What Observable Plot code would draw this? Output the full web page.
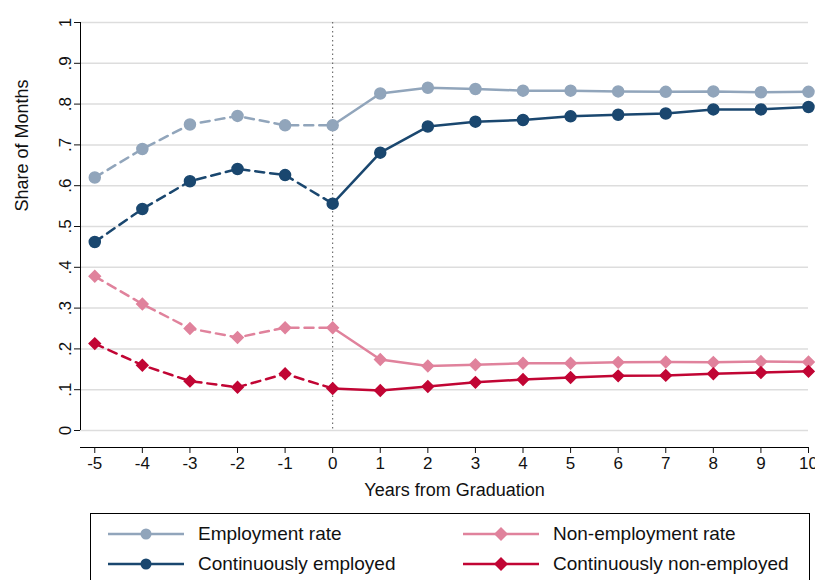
<!DOCTYPE html>
<html><head><meta charset="utf-8">
<script src="https://cdn.jsdelivr.net/npm/d3@7"></script>
<script src="https://cdn.jsdelivr.net/npm/@observablehq/plot@0.6"></script>
<style>
body{margin:0;background:#fff;font-family:Arial,"Liberation Sans",sans-serif;}
#legend{position:absolute;left:90px;top:513px;width:720px;height:72px;border:1px solid #000;box-sizing:border-box;}
.item{position:absolute;display:flex;align-items:center;font-size:19px;color:#111;}
</style></head>
<body><div id="chart"></div><div id="legend"></div>
<script>
const years = [-5,-4,-3,-2,-1,0,1,2,3,4,5,6,7,8,9,10];
const employment = [0.620,0.690,0.750,0.771,0.748,0.748,0.826,0.840,0.837,0.833,0.833,0.831,0.830,0.831,0.829,0.830];
const contEmployed = [0.462,0.543,0.611,0.641,0.626,0.556,0.681,0.745,0.757,0.761,0.770,0.774,0.777,0.787,0.787,0.793];
const nonEmployment = [0.378,0.310,0.250,0.228,0.252,0.252,0.174,0.158,0.161,0.165,0.165,0.167,0.168,0.167,0.169,0.168];
const contNonEmployed = [0.213,0.160,0.121,0.106,0.139,0.103,0.098,0.108,0.118,0.125,0.130,0.134,0.135,0.139,0.142,0.145];

const series = [
  {name:"Employment rate", values:employment, color:"#91a5bb", symbol:"circle", lx:15, ly:20},
  {name:"Continuously employed", values:contEmployed, color:"#1a476f", symbol:"circle", lx:15, ly:50},
  {name:"Non-employment rate", values:nonEmployment, color:"#e0829c", symbol:"diamond", lx:370, ly:20},
  {name:"Continuously non-employed", values:contNonEmployed, color:"#c10534", symbol:"diamond", lx:370, ly:50}
];
const rows = series.flatMap(s => years.map((x,i) => ({x, y:s.values[i], s:s.name, color:s.color, symbol:s.symbol})));
const pre = rows.filter(d => d.x <= 0), post = rows.filter(d => d.x >= 0);
const fmt = d => d===0 ? "0" : d===1 ? "1" : d.toFixed(1).replace(/^0/,"");

const chart = Plot.plot({
  width:815, height:505,
  marginLeft:80, marginRight:7, marginTop:22, marginBottom:75,
  style:{fontFamily:"Arial, Liberation Sans, sans-serif", fontSize:"17px", color:"#111"},
  x:{domain:[-5.3,10], label:null},
  y:{domain:[0,1], label:null},
  marks:[
    Plot.gridY(d3.range(0,1.01,0.1), {stroke:"#ddd", strokeOpacity:1, strokeWidth:1.5}),
    Plot.ruleX([0], {stroke:"#555", strokeDasharray:"1.5,3"}),
    Plot.ruleX([-5.3], {stroke:"#000"}),
    Plot.ruleY([0], {x1:-5.3, x2:10, dy:17, stroke:"#000"}),
    Plot.axisY(d3.range(0,1.01,0.1), {tickFormat:fmt, tickRotate:-90, tickSize:6, tickPadding:4, fontSize:17}),
    Plot.axisX(years, {tickFormat:d=>String(d), tickSize:6, tickPadding:3, fontSize:17, dy:17}),
    Plot.text(["Share of Months"], {frameAnchor:"left", dx:-58, dy:-15, rotate:-90, fontSize:18}),
    Plot.text(["Years from Graduation"], {frameAnchor:"bottom", dx:10, dy:65, fontSize:18}),
    Plot.line(pre, {x:"x", y:"y", z:"s", stroke:"color", strokeWidth:2.5, strokeDasharray:"9,6"}),
    Plot.line(post, {x:"x", y:"y", z:"s", stroke:"color", strokeWidth:2.5}),
    Plot.dot(rows.filter(d=>d.symbol==="circle"), {x:"x", y:"y", fill:"color", symbol:"circle", r:5.5, stroke:"color"}),
    Plot.dot(rows.filter(d=>d.symbol==="diamond"), {x:"x", y:"y", fill:"color", symbol:"square", rotate:45, r:4.5, stroke:"color"})
  ]
});
d3.select("#chart").append(() => chart);

const leg = d3.select("#legend");
for (const s of series) {
  const it = leg.append("div").attr("class","item").style("left", s.lx+"px").style("top",(s.ly-12)+"px");
  const sv = it.append("svg").attr("width",80).attr("height",24);
  sv.append("line").attr("x1",2).attr("x2",78).attr("y1",12).attr("y2",12).attr("stroke",s.color).attr("stroke-width",2.5);
  if (s.symbol==="circle") sv.append("circle").attr("cx",40).attr("cy",12).attr("r",5.5).attr("fill",s.color);
  else sv.append("path").attr("d","M40,5L47,12L40,19L33,12Z").attr("fill",s.color);
  it.append("span").style("margin-left","12px").text(s.name);
}
</script></body></html>
